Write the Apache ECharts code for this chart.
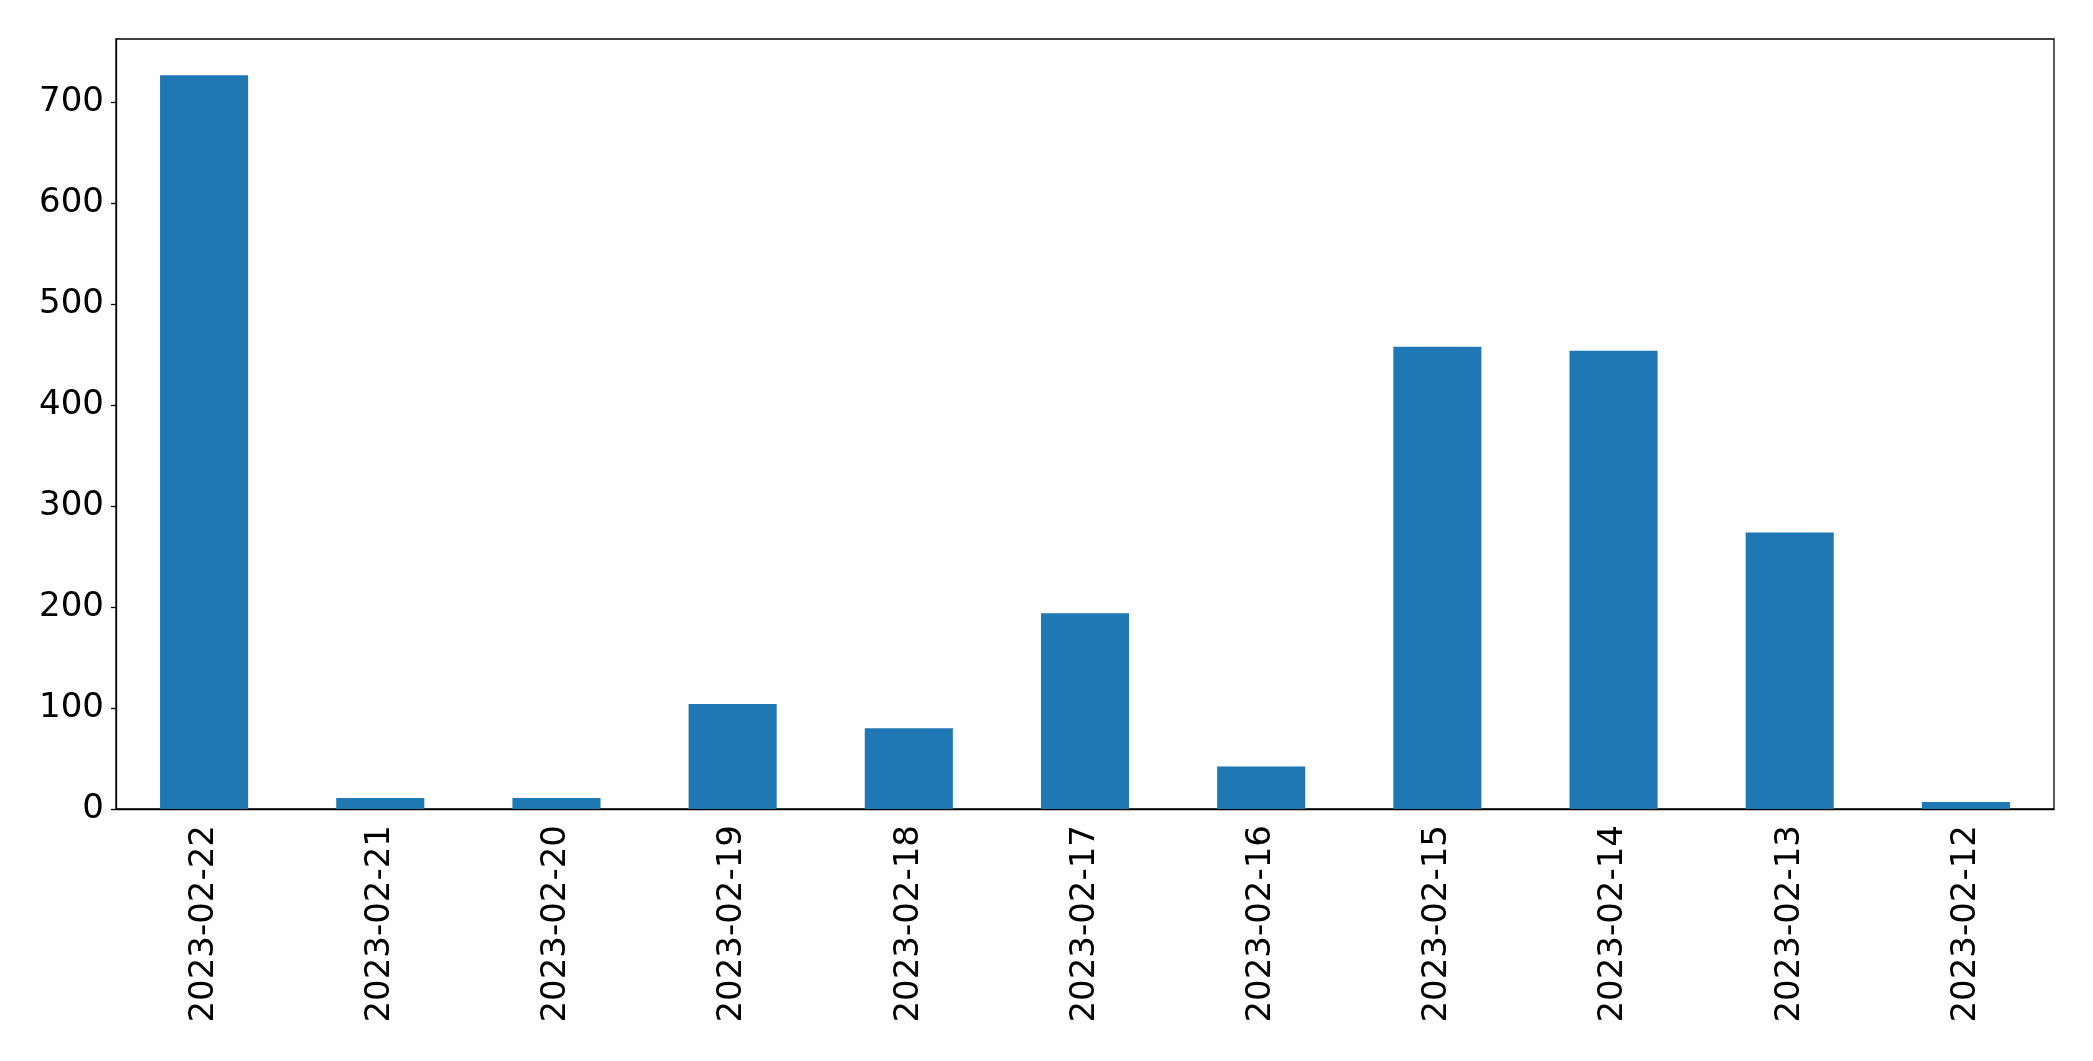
<!DOCTYPE html>
<html lang="en">
<head>
    <meta charset="UTF-8">
    <title>bar</title>
    <style>
        html, body { margin: 0; padding: 0; background: #ffffff; }
        #main { width: 2093px; height: 1061px; }
    </style>
    <script src="https://cdn.jsdelivr.net/npm/echarts@6/dist/echarts.min.js"></script>
</head>
<body>
<div id="main"></div>
<script>
    var dates = ['2023-02-22', '2023-02-21', '2023-02-20', '2023-02-19', '2023-02-18', '2023-02-17',
                 '2023-02-16', '2023-02-15', '2023-02-14', '2023-02-13', '2023-02-12'];
    var counts = [727, 11, 11, 104, 80, 194, 42, 458, 454, 274, 7];
    var yTicks = [0, 100, 200, 300, 400, 500, 600, 700];

    var myChart = echarts.init(document.getElementById('main'));
    var option = {
        animation: false,
        backgroundColor: '#ffffff',
        grid: {
            left: 116,
            top: 39,
            right: 39,
            bottom: 252,
            show: true,
            borderColor: '#000000',
            borderWidth: 1.3,
            containLabel: false
        },
        xAxis: {
            type: 'category',
            data: dates,
            axisLine: { lineStyle: { color: '#000000', width: 1.3 } },
            axisTick: { alignWithLabel: true, length: 5, lineStyle: { color: '#000000', width: 1.3 } },
            axisLabel: {
                interval: 0,
                rotate: 90,
                margin: 16,
                color: '#000000',
                fontFamily: 'DejaVu Sans',
                fontSize: 34
            },
            splitLine: { show: false }
        },
        yAxis: {
            type: 'value',
            min: 0,
            max: 763,
            interval: 100,
            axisLine: { show: true, lineStyle: { color: '#000000', width: 1.3 } },
            axisTick: { show: true, length: 5, customValues: yTicks, lineStyle: { color: '#000000', width: 1.3 } },
            axisLabel: {
                showMaxLabel: false,
                margin: 12,
                color: '#000000',
                fontFamily: 'DejaVu Sans',
                fontSize: 34,
                formatter: function (v) {
                    return yTicks.indexOf(v) >= 0 ? String(v) : '';
                }
            },
            splitLine: { show: false }
        },
        series: [
            {
                type: 'bar',
                data: counts,
                barWidth: '50%',
                itemStyle: { color: '#1f77b4' }
            }
        ]
    };
    myChart.setOption(option);
</script>
</body>
</html>
